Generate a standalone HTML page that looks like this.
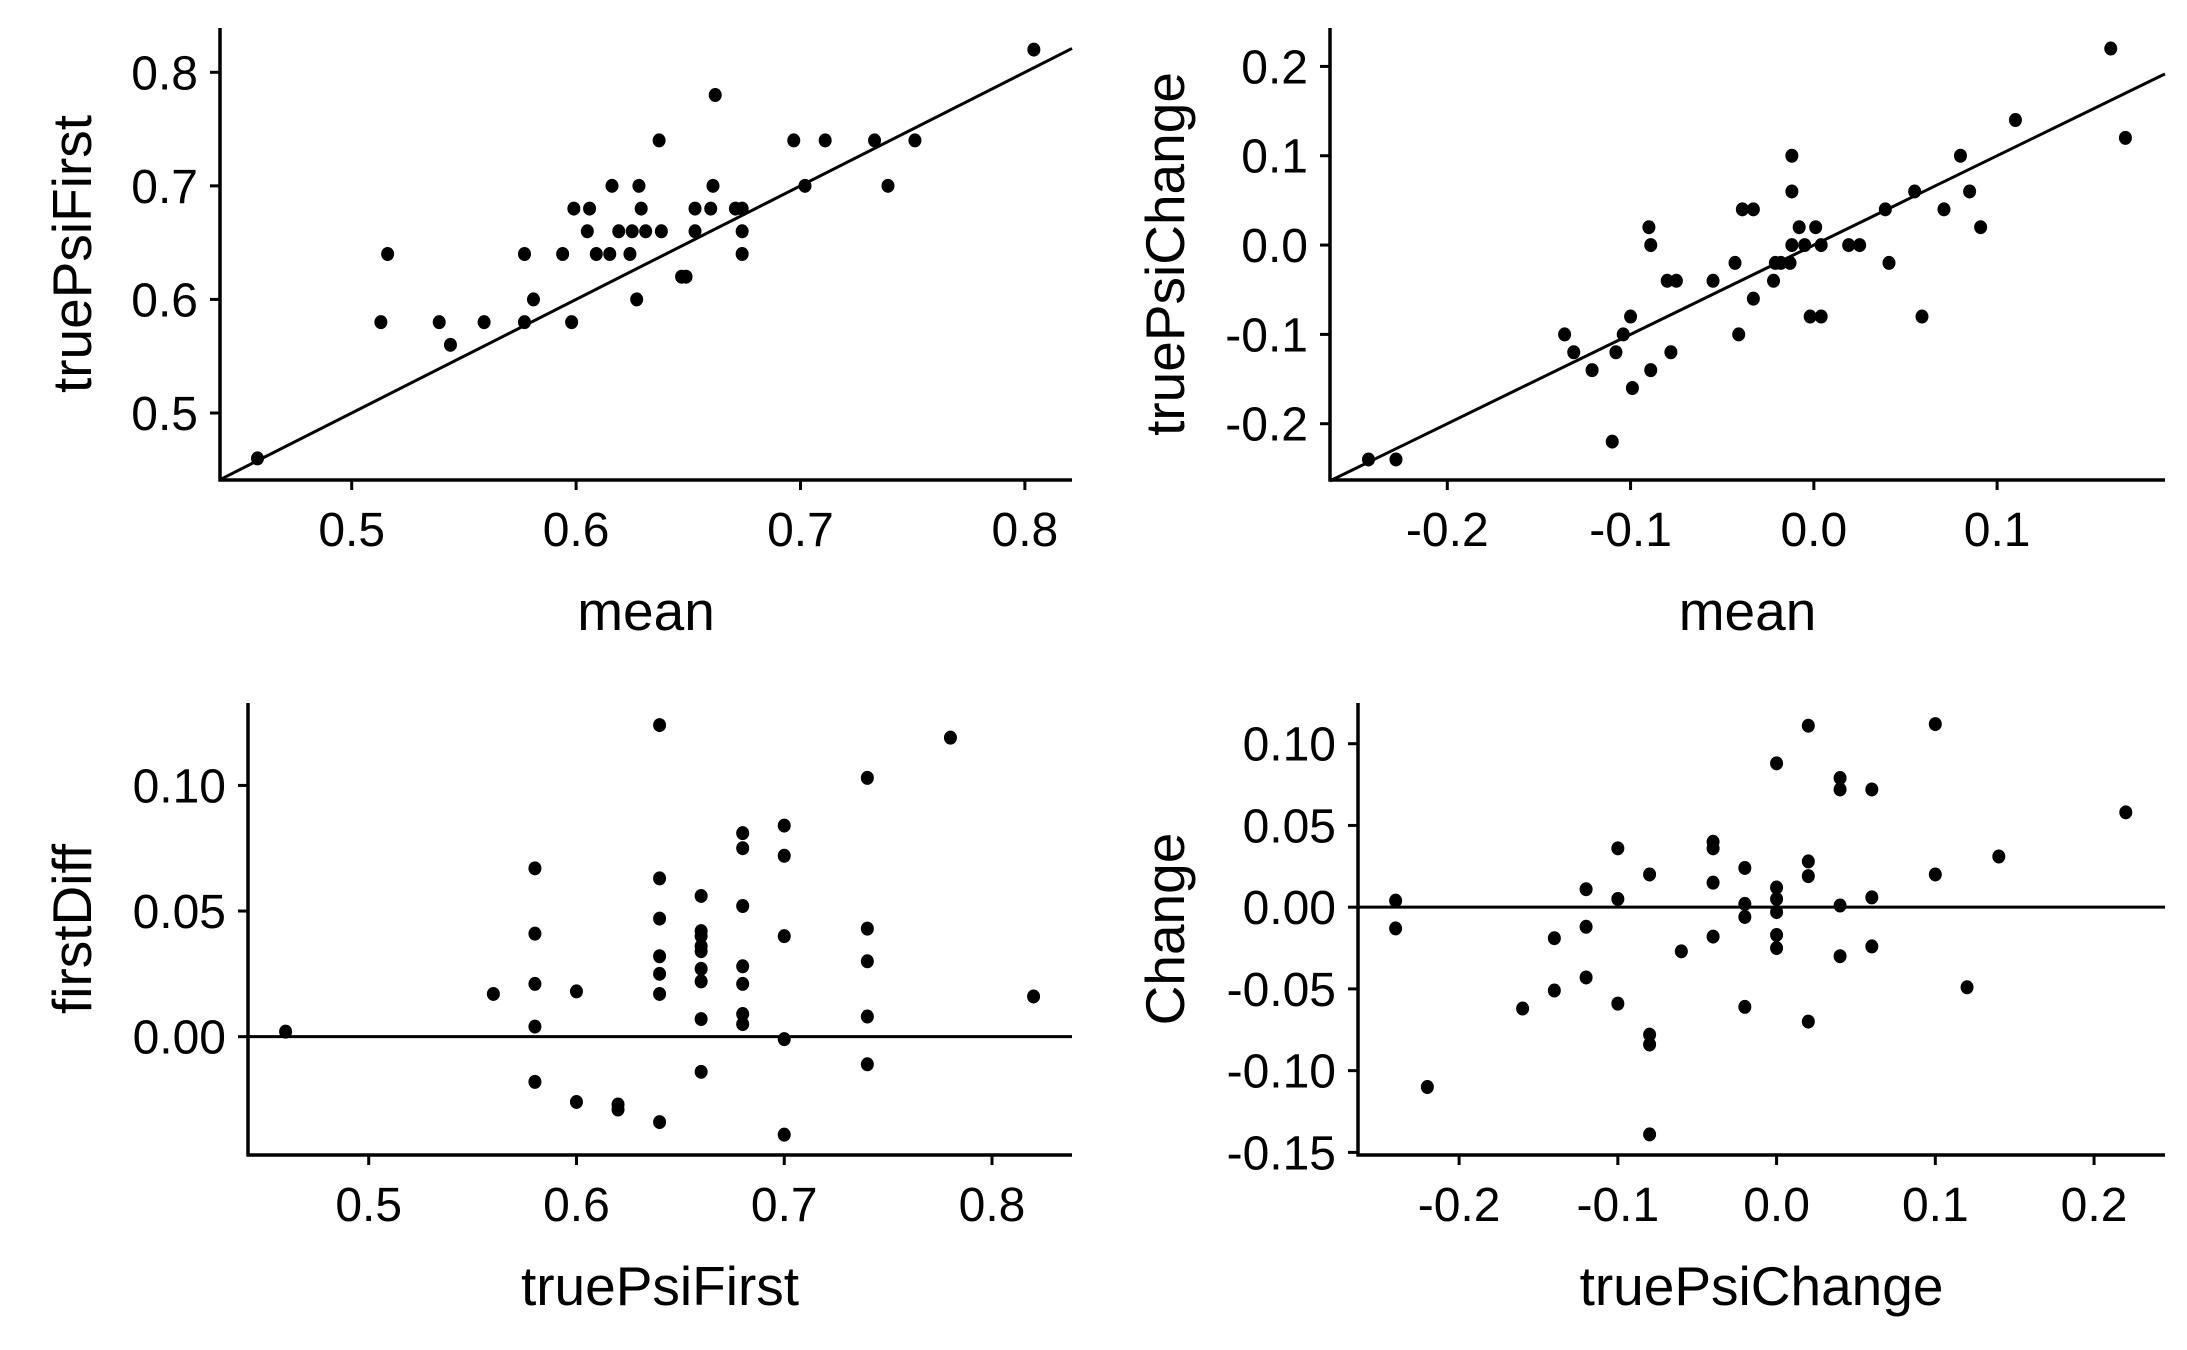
<!DOCTYPE html>
<html><head><meta charset="utf-8"><style>
html,body{margin:0;padding:0;background:#fff;}
svg{display:block;font-family:"Liberation Sans",Arial,sans-serif;}
</style></head><body>
<svg id="chart" width="2187" height="1350" viewBox="0 0 2187 1350" xmlns="http://www.w3.org/2000/svg"></svg>
<script>
// Panel 1: mean vs truePsiFirst
const p1X = [0.458,0.513,0.516,0.539,0.544,0.559,0.577,0.577,0.581,0.594,0.598,0.599,0.606,0.605,0.609,0.615,0.616,0.619,0.624,0.625,0.627,0.628,0.629,0.631,0.637,0.638,0.647,0.649,0.653,0.653,0.660,0.661,0.662,0.671,0.674,0.674,0.674,0.697,0.702,0.711,0.733,0.739,0.751,0.804];
const p1Y = [0.46,0.58,0.64,0.58,0.56,0.58,0.64,0.58,0.60,0.64,0.58,0.68,0.68,0.66,0.64,0.64,0.70,0.66,0.64,0.66,0.60,0.70,0.68,0.66,0.74,0.66,0.62,0.62,0.68,0.66,0.68,0.70,0.78,0.68,0.68,0.66,0.64,0.74,0.70,0.74,0.74,0.70,0.74,0.82];
const p1XTicks = [0.5,0.6,0.7,0.8];
const p1YTicks = [0.5,0.6,0.7,0.8];
const p1Fit = [0.0, 1.0];
// Panel 2: mean vs truePsiChange
const p2X = [-0.243,-0.228,-0.136,-0.131,-0.121,-0.110,-0.108,-0.104,-0.100,-0.099,-0.090,-0.089,-0.089,-0.080,-0.078,-0.075,-0.055,-0.043,-0.041,-0.039,-0.033,-0.033,-0.022,-0.021,-0.018,-0.013,-0.012,-0.012,-0.012,-0.008,-0.005,-0.002,0.001,0.004,0.004,0.019,0.025,0.039,0.041,0.055,0.059,0.071,0.080,0.085,0.091,0.110,0.162,0.170];
const p2Y = [-0.24,-0.24,-0.10,-0.12,-0.14,-0.22,-0.12,-0.10,-0.08,-0.16,0.02,0.00,-0.14,-0.04,-0.12,-0.04,-0.04,-0.02,-0.10,0.04,0.04,-0.06,-0.04,-0.02,-0.02,-0.02,0.10,0.06,0.00,0.02,0.00,-0.08,0.02,-0.08,0.00,0.00,0.00,0.04,-0.02,0.06,-0.08,0.04,0.10,0.06,0.02,0.14,0.22,0.12];
const p2XTicks = [-0.2,-0.1,0.0,0.1];
const p2YTicks = [-0.2,-0.1,0.0,0.1,0.2];
const p2Fit = [0.0, 1.0];
// Panel 3: truePsiFirst vs firstDiff
const p3X = [0.46,0.56,0.58,0.58,0.58,0.58,0.58,0.60,0.60,0.62,0.62,0.64,0.64,0.64,0.64,0.64,0.64,0.64,0.66,0.66,0.66,0.66,0.66,0.66,0.66,0.66,0.66,0.68,0.68,0.68,0.68,0.68,0.68,0.68,0.70,0.70,0.70,0.70,0.70,0.74,0.74,0.74,0.74,0.74,0.78,0.82];
const p3Y = [0.002,0.017,0.067,0.041,0.021,0.004,-0.018,0.018,-0.026,-0.027,-0.029,0.124,0.063,0.047,0.032,0.025,0.017,-0.034,0.056,0.042,0.040,0.036,0.034,0.027,0.022,0.007,-0.014,0.081,0.075,0.052,0.028,0.021,0.009,0.005,0.084,0.072,0.040,-0.001,-0.039,0.103,0.043,0.030,0.008,-0.011,0.119,0.016];
const p3XTicks = [0.5,0.6,0.7,0.8];
const p3YTicks = [0.00,0.05,0.10];
// Panel 4: truePsiChange vs Change
const p4X = [-0.24,-0.24,-0.22,-0.16,-0.14,-0.14,-0.12,-0.12,-0.12,-0.10,-0.10,-0.10,-0.08,-0.08,-0.08,-0.08,-0.06,-0.04,-0.04,-0.04,-0.04,-0.02,-0.02,-0.02,-0.02,0.00,0.00,0.00,0.00,0.00,0.00,0.02,0.02,0.02,0.02,0.04,0.04,0.04,0.04,0.06,0.06,0.06,0.10,0.10,0.12,0.14,0.22];
const p4Y = [0.004,-0.013,-0.110,-0.062,-0.019,-0.051,0.011,-0.012,-0.043,0.036,0.005,-0.059,0.020,-0.078,-0.084,-0.139,-0.027,0.040,0.036,0.015,-0.018,0.024,0.002,-0.006,-0.061,0.088,0.012,0.005,-0.003,-0.017,-0.025,0.111,0.028,0.019,-0.070,0.079,0.072,0.001,-0.030,0.072,0.006,-0.024,0.112,0.020,-0.049,0.031,0.058];
const p4XTicks = [-0.2,-0.1,0.0,0.1,0.2];
const p4YTicks = [-0.15,-0.10,-0.05,0.00,0.05,0.10];

const NS = "http://www.w3.org/2000/svg";
const svg = document.getElementById('chart');
function mk(tag, attrs, parent){
  const e = document.createElementNS(NS, tag);
  for (const k in attrs) e.setAttribute(k, attrs[k]);
  (parent||svg).appendChild(e);
  return e;
}
function panel(cfg){
  const g = mk('g', {});
  
  
  const sx = v => cfg.left + (v - cfg.xd[0]) / (cfg.xd[1]-cfg.xd[0]) * (cfg.right - cfg.left);
  const sy = v => cfg.bottom - (v - cfg.yd[0]) / (cfg.yd[1]-cfg.yd[0]) * (cfg.bottom - cfg.top);
  if (cfg.fit) {
    const x0 = cfg.xd[0], x1 = cfg.xd[1];
    const ln = mk('line', {x1:sx(x0), y1:sy(cfg.fit[0]+cfg.fit[1]*x0), x2:sx(x1), y2:sy(cfg.fit[0]+cfg.fit[1]*x1), stroke:'#000','stroke-width':3}, g);
    
    
  }
  if (cfg.hline !== undefined) {
    const ln = mk('line', {x1:cfg.left, y1:sy(cfg.hline), x2:cfg.right, y2:sy(cfg.hline), stroke:'#000','stroke-width':3}, g);
    
    
  }
  for (let i=0;i<cfg.xs.length;i++){
    const c = mk('ellipse', {cx:sx(cfg.xs[i]), cy:sy(cfg.ys[i]), rx:6.5, ry:7, fill:'#000'}, g);
    
    
  }
  const xa = mk('line', {x1:cfg.left-1.5, y1:cfg.bottom, x2:cfg.right, y2:cfg.bottom, stroke:'#000','stroke-width':3.5}, g);
  
  
  const ya = mk('line', {x1:cfg.left, y1:cfg.top, x2:cfg.left, y2:cfg.bottom+1.5, stroke:'#000','stroke-width':3.5}, g);
  
  
  cfg.xt.forEach(v => {
    mk('line', {x1:sx(v), y1:cfg.bottom, x2:sx(v), y2:cfg.bottom+10, stroke:'#000','stroke-width':3}, g);
    const t = mk('text', {x:sx(v), y:cfg.bottom+66, 'text-anchor':'middle', 'font-size':48, fill:'#000'}, g);
    t.textContent = v.toFixed(cfg.xdec);
    
    
  });
  cfg.yt.forEach(v => {
    mk('line', {x1:cfg.left-10, y1:sy(v), x2:cfg.left, y2:sy(v), stroke:'#000','stroke-width':3}, g);
    const t = mk('text', {x:cfg.left-22, y:sy(v)+17, 'text-anchor':'end', 'font-size':48, fill:'#000'}, g);
    t.textContent = v.toFixed(cfg.ydec);
    
    
  });
  const xt = mk('text', {x:(cfg.left+cfg.right)/2, y:cfg.bottom+150, 'text-anchor':'middle', 'font-size':55, fill:'#000'}, g);
  xt.textContent = cfg.xlab;
  
  
  const cy = (cfg.top+cfg.bottom)/2;
  const yt = mk('text', {x:cfg.ytx, y:cy, 'text-anchor':'middle', 'font-size':55, fill:'#000', transform:`rotate(-90 ${cfg.ytx} ${cy})`, dy:19}, g);
  yt.textContent = cfg.ylab;
  
  
}
panel({name:'panel-mean-vs-truePsiFirst', left:220, right:1072, top:28, bottom:480, xd:[0.4413,0.821], yd:[0.441,0.839], xs:p1X, ys:p1Y, xt:p1XTicks, yt:p1YTicks, xdec:1, ydec:1, fit:p1Fit, xlab:'mean', ylab:'truePsiFirst', ytx:72});
panel({name:'panel-mean-vs-truePsiChange', left:1330, right:2165, top:28, bottom:480, xd:[-0.264,0.1916], yd:[-0.263,0.243], xs:p2X, ys:p2Y, xt:p2XTicks, yt:p2YTicks, xdec:1, ydec:1, fit:p2Fit, xlab:'mean', ylab:'truePsiChange', ytx:1165});
panel({name:'panel-truePsiFirst-vs-firstDiff', left:248, right:1072, top:703, bottom:1155, xd:[0.4419,0.8385], yd:[-0.0471,0.1328], xs:p3X, ys:p3Y, xt:p3XTicks, yt:p3YTicks, xdec:1, ydec:2, hline:0, xlab:'truePsiFirst', ylab:'firstDiff', ytx:72});
panel({name:'panel-truePsiChange-vs-Change', left:1358, right:2165, top:703, bottom:1155, xd:[-0.2637,0.2447], yd:[-0.1516,0.1249], xs:p4X, ys:p4Y, xt:p4XTicks, yt:p4YTicks, xdec:1, ydec:2, hline:0, xlab:'truePsiChange', ylab:'Change', ytx:1165});
</script>
</body></html>
